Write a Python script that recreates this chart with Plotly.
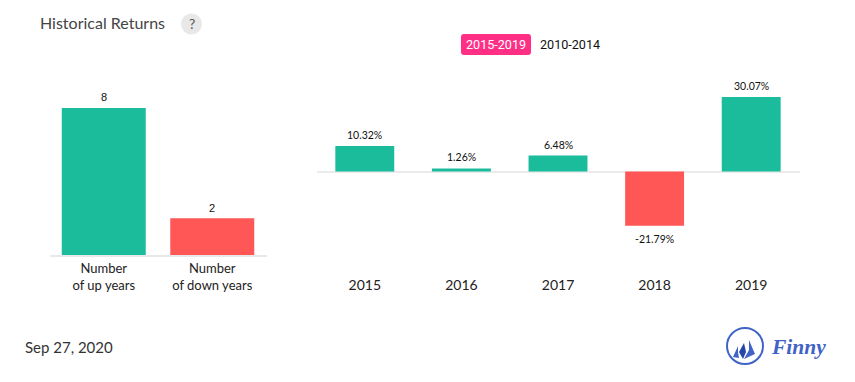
import plotly.graph_objects as go

PAGE_OFFSET = 8
W, H = 839, 366
count_labels = ["Number<br>of up years", "Number<br>of down years"]
count_values = [8, 2]
count_text = ["8", "2"]
years = ["2015", "2016", "2017", "2018", "2019"]
returns = [10.32, 1.26, 6.48, -21.79, 30.07]
return_text = ["10.32%", "1.26%", "6.48%", "-21.79%", "30.07%"]
GREEN, RED = "#1abc9c", "#ff5656"
BLUE = "#3f63c6"; DARK = "#2346a8"


def px(x):
    return (x - PAGE_OFFSET) / W


def py(y):
    return 1 - (y - PAGE_OFFSET) / H


def path(points):
    return "M" + " L".join(f"{px(a):.5f},{py(b):.5f}" for a, b in points) + " Z"


fig = go.Figure()
fig.add_bar(x=count_labels, y=count_values,
            marker=dict(color=[GREEN, RED], line_width=0), xaxis="x", yaxis="y", hoverinfo="skip")
fig.add_bar(x=years, y=returns,
            marker=dict(color=[GREEN if v >= 0 else RED for v in returns], line_width=0), xaxis="x2", yaxis="y2",
            hoverinfo="skip", width=0.61)

shapes = [
    dict(type="circle", xref="paper", yref="paper", x0=px(181), x1=px(202), y0=py(34.5), y1=py(13.5),
         fillcolor="#e8e8e8", line_width=0),
    dict(type="path", xref="paper", yref="paper", fillcolor="#ff2f86", line_width=0,
         path=(f"M{px(464):.5f},{py(34):.5f} L{px(528):.5f},{py(34):.5f} Q{px(531):.5f},{py(34):.5f} {px(531):.5f},{py(37):.5f} "
               f"L{px(531):.5f},{py(52):.5f} Q{px(531):.5f},{py(55):.5f} {px(528):.5f},{py(55):.5f} "
               f"L{px(464):.5f},{py(55):.5f} Q{px(461):.5f},{py(55):.5f} {px(461):.5f},{py(52):.5f} "
               f"L{px(461):.5f},{py(37):.5f} Q{px(461):.5f},{py(34):.5f} {px(464):.5f},{py(34):.5f} Z")),
    dict(type="circle", xref="paper", yref="paper", x0=px(727), x1=px(763), y0=py(364), y1=py(328),
         line=dict(color=BLUE, width=2), fillcolor="rgba(0,0,0,0)"),
    dict(type="path", xref="paper", yref="paper", line_width=0, fillcolor=BLUE,
         path=path([(749, 340), (755, 354), (744, 359), (749, 350)])),
    dict(type="path", xref="paper", yref="paper", line_width=0, fillcolor=DARK,
         path=path([(744, 343), (739, 352), (743, 359), (746, 352)])),
    dict(type="path", xref="paper", yref="paper", line_width=0, fillcolor=BLUE,
         path=path([(738, 346), (733, 357), (739, 358), (738, 352)])),
]
annotations = [
    dict(text="Historical Returns", x=px(38), y=py(22), xanchor="left", yanchor="middle",
         font=dict(family="Lato", size=16, color="#444")),
    dict(text="?", x=px(191.5), y=py(23.5), xanchor="center", yanchor="middle",
         font=dict(family="Lato", size=14, color="#555")),
    dict(text="2015-2019", x=px(496), y=py(44.5), xanchor="center", yanchor="middle",
         font=dict(family="Roboto", size=12.6, color="#fff")),
    dict(text="2010-2014", x=px(570), y=py(44.5), xanchor="center", yanchor="middle",
         font=dict(family="Roboto", size=12.6, color="#111")),
    dict(text="Sep 27, 2020", x=px(23), y=py(347), xanchor="left", yanchor="middle",
         font=dict(family="Lato", size=15, color="#333")),
    dict(text="<b><i>Finny</i></b>", x=px(798.5), y=py(347), xanchor="center", yanchor="middle",
         font=dict(family="Liberation Serif", size=21.5, color=BLUE)),
]
for a in annotations:
    a.update(xref="paper", yref="paper", showarrow=False)
for i, (val, txt) in enumerate(zip(count_values, count_text)):
    annotations.append(dict(x=i, y=val, xref="x", yref="y", text=txt, showarrow=False, yanchor="bottom",
                            yshift=3 if i == 0 else 2, font=dict(family="Liberation Sans", size=11, color="#111")))
for i, (val, txt) in enumerate(zip(returns, return_text)):
    annotations.append(dict(x=i, y=val, xref="x2", yref="y2", text=txt, showarrow=False,
                            yanchor="bottom" if val >= 0 else "top", yshift=3 if val >= 0 else -5,
                            font=dict(family="Lato", size=10.5, color="#111")))

fig.update_layout(
    width=W, height=H, margin=dict(l=0, r=0, t=0, b=0), showlegend=False,
    paper_bgcolor="white", plot_bgcolor="white", barmode="relative", bargap=0.226,
    shapes=shapes, annotations=annotations,
    xaxis=dict(type="category", domain=[px(49.5), px(266.5)], anchor="y", showgrid=False, showline=True, linecolor="#e8e8e8", linewidth=2,
               ticks="", tickfont=dict(family="Lato", size=13, color="#222"), fixedrange=True, range=[-0.5, 1.5]),
    yaxis=dict(domain=[py(255), py(60)], range=[0, 10.61], visible=False, fixedrange=True),
    xaxis2=dict(type="category", domain=[px(316.5), px(799.5)], anchor="y2", showgrid=False, showline=False, ticks="",
                tickfont=dict(family="Lato", size=14, color="#222"), fixedrange=True, range=[-0.5, 4.5]),
    yaxis2=dict(domain=[py(275), py(60)], range=[-41.7, 45], anchor="x2", showticklabels=False, showgrid=False,
                zeroline=True, zerolinecolor="#ebebeb", zerolinewidth=2, fixedrange=True),
)
fig.write_html("out.html")
